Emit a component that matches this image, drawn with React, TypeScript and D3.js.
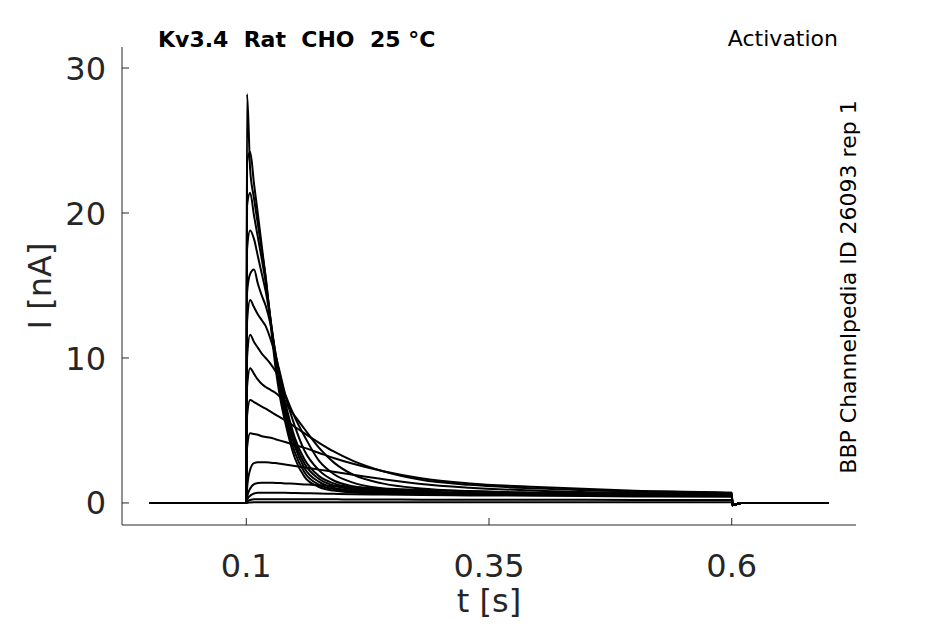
import { useEffect } from "react"
import * as d3 from "d3"

// sample times (s), shared by every trace
const times = [0, 0.1, 0.1008, 0.104, 0.108, 0.112, 0.116, 0.12, 0.125, 0.13, 0.135, 0.14, 0.15, 0.16, 0.175, 0.19, 0.21, 0.24, 0.28, 0.33, 0.4, 0.5, 0.6, 0.6008, 0.61, 0.7]

// currents (nA), one array per voltage step
const traceA = [0, 0, 28.2, 23.0, 21.0, 19.2, 17.4, 15.6, 12.4, 9.4, 7.2, 5.6, 3.1, 1.8, 1.1, 0.85, 0.72, 0.66, 0.62, 0.6, 0.55, 0.55, 0.5, -0.15, 0, 0]
const traceB = [0, 0, 23.5, 24.2, 22.0, 19.9, 17.7, 15.5, 12.6, 9.8, 7.6, 6.0, 3.5, 2.1, 1.25, 0.95, 0.78, 0.68, 0.62, 0.6, 0.55, 0.55, 0.5, -0.15, 0, 0]
const traceC = [0, 0, 20.5, 21.4, 19.8, 18.3, 16.8, 15.2, 12.7, 10.1, 8.0, 6.3, 3.9, 2.4, 1.45, 1.05, 0.85, 0.72, 0.66, 0.6, 0.6, 0.55, 0.5, -0.15, 0, 0]
const traceD = [0, 0, 17.5, 18.8, 18.2, 17.0, 15.8, 14.6, 12.6, 10.3, 8.3, 6.7, 4.2, 2.7, 1.65, 1.2, 0.95, 0.78, 0.68, 0.62, 0.6, 0.55, 0.5, -0.15, 0, 0]
const traceE = [0, 0, 14.5, 15.8, 16.1, 15.1, 14.3, 13.6, 12.3, 10.4, 8.6, 7.0, 4.5, 3.0, 1.85, 1.35, 1.05, 0.85, 0.72, 0.66, 0.6, 0.55, 0.5, -0.15, 0, 0]
const traceF = [0, 0, 12.5, 14.0, 13.5, 13.0, 12.6, 12.2, 11.3, 10.2, 8.9, 7.5, 5.3, 3.6, 2.25, 1.55, 1.15, 0.9, 0.75, 0.67, 0.6, 0.55, 0.5, -0.15, 0, 0]
const traceG = [0, 0, 10.0, 11.6, 11.1, 10.7, 10.3, 10.0, 9.6, 9.1, 8.4, 7.5, 5.9, 4.6, 2.9, 2.0, 1.4, 1.0, 0.8, 0.68, 0.6, 0.55, 0.5, -0.15, 0, 0]
const traceH = [0, 0, 8.0, 9.3, 8.9, 8.5, 8.2, 8.0, 7.8, 7.6, 7.3, 6.9, 6.0, 5.1, 3.8, 2.8, 1.95, 1.35, 1.0, 0.82, 0.7, 0.6, 0.55, -0.15, 0, 0]
const traceI = [0, 0, 6.0, 7.1, 6.95, 6.8, 6.65, 6.5, 6.3, 6.1, 5.9, 5.7, 5.25, 4.8, 4.15, 3.55, 2.9, 2.2, 1.6, 1.25, 1.0, 0.8, 0.7, -0.15, 0, 0]
const traceJ = [0, 0, 3.8, 4.8, 4.75, 4.7, 4.6, 4.55, 4.5, 4.4, 4.3, 4.2, 4.0, 3.8, 3.45, 3.1, 2.7, 2.2, 1.7, 1.35, 1.1, 0.85, 0.7, -0.15, 0, 0]
const traceK = [0, 0, 1.0, 2.3, 2.75, 2.8, 2.8, 2.8, 2.78, 2.75, 2.7, 2.65, 2.55, 2.45, 2.3, 2.15, 1.95, 1.65, 1.3, 1.05, 0.85, 0.7, 0.6, -0.15, 0, 0]
const traceL = [0, 0, 0.4, 1.0, 1.3, 1.38, 1.4, 1.4, 1.4, 1.38, 1.37, 1.35, 1.32, 1.28, 1.22, 1.17, 1.1, 1.0, 0.9, 0.8, 0.7, 0.6, 0.55, -0.15, 0, 0]
const traceM = [0, 0, 0.2, 0.5, 0.65, 0.7, 0.7, 0.7, 0.7, 0.7, 0.7, 0.7, 0.68, 0.67, 0.65, 0.63, 0.6, 0.58, 0.55, 0.52, 0.5, 0.45, 0.42, -0.15, 0, 0]
const traceN = [0, 0, 0.1, 0.2, 0.25, 0.25, 0.25, 0.25, 0.25, 0.25, 0.25, 0.25, 0.25, 0.25, 0.25, 0.25, 0.24, 0.24, 0.23, 0.23, 0.22, 0.21, 0.2, -0.15, 0, 0]
const traceO = [0, 0, 0.02, 0.04, 0.05, 0.05, 0.05, 0.05, 0.05, 0.05, 0.05, 0.05, 0.05, 0.05, 0.05, 0.05, 0.05, 0.05, 0.05, 0.05, 0.05, 0.05, 0.05, -0.15, 0, 0]

const traces = [traceA, traceB, traceC, traceD, traceE, traceF, traceG, traceH, traceI, traceJ, traceK, traceL, traceM, traceN, traceO]

const xTicks = [0.1, 0.35, 0.6]
const yTicks = [0, 10, 20, 30]

const title = "Kv3.4\u00a0\u00a0Rat\u00a0\u00a0CHO\u00a0\u00a025 °C"
const protocol = "Activation"
const sideNote = "BBP Channelpedia ID 26093 rep 1"

const W = 945
const H = 624
const left = 122, right = 856, top = 47, bottom = 525
const font = "'DejaVu Sans', sans-serif"
const ink = "#262626"

export default function App() {
  useEffect(() => {
    document.body.style.margin = "0"
  }, [])

  const x = d3.scaleLinear().domain([-0.028, 0.728]).range([left, right])
  const y = d3.scaleLinear().domain([-1.52, 31.45]).range([bottom, top])

  const line = d3
    .line<number>()
    .x((_, i) => x(times[i]))
    .y(d => y(d))
    .curve(d3.curveMonotoneX)

  return (
    <svg width={W} height={H} style={{ display: "block", background: "#fff" }}>
      {/* traces */}
      <g fill="none" stroke="#000" strokeWidth={2} strokeLinejoin="round">
        {traces.map((tr, i) => (
          <path key={i} d={line(tr) ?? ""} />
        ))}
      </g>

      {/* axes */}
      <g stroke={ink} strokeWidth={1}>
        <line x1={left} x2={left} y1={top} y2={bottom} />
        <line x1={left} x2={right} y1={bottom} y2={bottom} />
        {yTicks.map(t => (
          <line key={"y" + t} x1={left} x2={left + 7} y1={y(t)} y2={y(t)} />
        ))}
        {xTicks.map(t => (
          <line key={"x" + t} x1={x(t)} x2={x(t)} y1={bottom} y2={bottom - 7} />
        ))}
      </g>

      <g fontFamily={font} fill={ink} fontSize={32}>
        {yTicks.map(t => (
          <text key={"yl" + t} x={106} y={y(t)} dy="0.36em" textAnchor="end">
            {t}
          </text>
        ))}
        {xTicks.map(t => (
          <text key={"xl" + t} x={x(t)} y={577} textAnchor="middle">
            {t}
          </text>
        ))}
        <text x={(left + right) / 2} y={612} textAnchor="middle">t [s]</text>
        <text transform={`translate(51,${(top + bottom) / 2}) rotate(-90)`} textAnchor="middle">
          I [nA]
        </text>
      </g>

      <g fontFamily={font} fill="#000" fontSize={22}>
        <text x={158} y={47} fontWeight="bold">{title}</text>
        <text x={838} y={46} textAnchor="end">{protocol}</text>
        <text transform="translate(856,287) rotate(-90)" textAnchor="middle">
          {sideNote}
        </text>
      </g>
    </svg>
  )
}
